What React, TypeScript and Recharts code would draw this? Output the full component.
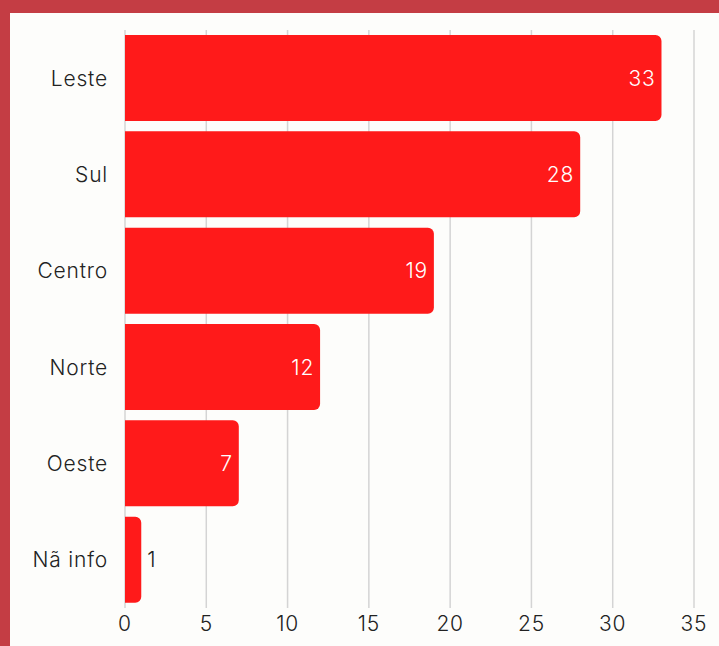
import { Bar, BarChart, CartesianGrid, LabelList, XAxis, YAxis } from "recharts";

const regions = ["Leste", "Sul", "Centro", "Norte", "Oeste", "Nã info"];
const counts = [33, 28, 19, 12, 7, 1];
const xTicks = [0, 5, 10, 15, 20, 25, 30, 35];

const data = regions.map((name, i) => ({ name, count: counts[i] }));

const FONT = "Inter, sans-serif";
const textStyle = {
  fill: "#222222",
  fontSize: 21,
  fontFamily: FONT,
  fontWeight: 300,
  letterSpacing: 0.8,
};

function renderValue(props: any) {
  const { x, y, width, height, value } = props;
  const inside = width > 30;
  return (
    <text
      x={inside ? x + width - 6 : x + width + 6}
      y={y + height / 2}
      textAnchor={inside ? "end" : "start"}
      dominantBaseline="central"
      fill={inside ? "#ffffff" : "#222222"}
      fontSize={21}
      fontWeight={300}
      letterSpacing={0.8}
      fontFamily={FONT}
    >
      {value}
    </text>
  );
}

export default function App() {
  return (
    <div
      style={{
        position: "fixed",
        top: 0,
        left: 0,
        width: 719,
        height: 646,
        background: "#c43d44",
      }}
    >
      <div
        style={{
          position: "absolute",
          top: 13,
          left: 10,
          right: 0,
          bottom: 0,
          background: "#fdfdfb",
        }}
      />
      <div style={{ position: "absolute", top: 0, left: 0 }}>
        <BarChart
          width={719}
          height={646}
          data={data}
          layout="vertical"
          margin={{ top: 30, right: 25, bottom: 0, left: 0 }}
          barCategoryGap={5}
        >
          <CartesianGrid horizontal={false} stroke="#d4d4d4" strokeWidth={1.5} />
          <XAxis
            type="number"
            domain={[0, 35]}
            ticks={xTicks}
            axisLine={false}
            tickLine={false}
            tickSize={0}
            tickMargin={8}
            height={38}
            tick={textStyle}
          />
          <YAxis
            type="category"
            dataKey="name"
            width={125}
            axisLine={false}
            tickLine={false}
            tickSize={0}
            tickMargin={17}
            tick={textStyle}
          />
          <Bar
            dataKey="count"
            fill="#ff1a1a"
            radius={[0, 6, 6, 0]}
            isAnimationActive={false}
          >
            <LabelList dataKey="count" content={renderValue} />
          </Bar>
        </BarChart>
      </div>
    </div>
  );
}
